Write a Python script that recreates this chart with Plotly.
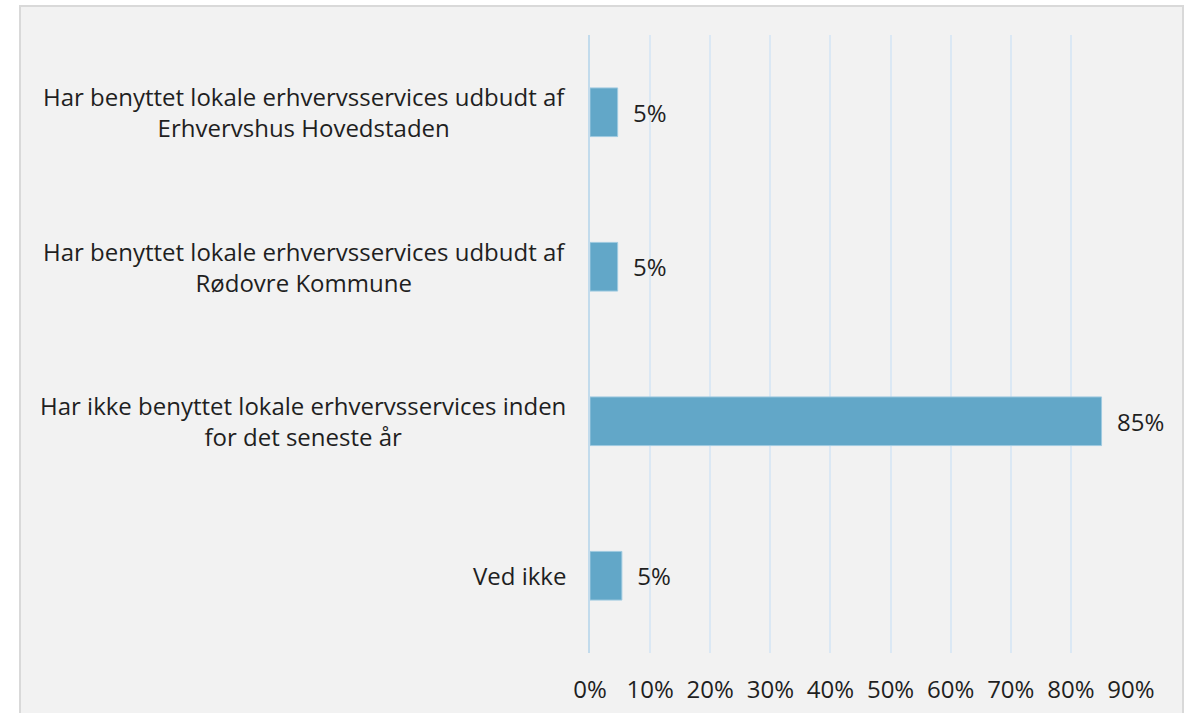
import plotly.graph_objects as go

categories = [
    "Har benyttet lokale erhvervsservices udbudt af<br>Erhvervshus Hovedstaden",
    "Har benyttet lokale erhvervsservices udbudt af<br>Rødovre Kommune",
    "Har ikke benyttet lokale erhvervsservices inden<br>for det seneste år",
    "Ved ikke",
]
values = [0.046, 0.046, 0.851, 0.053]
tick_vals = [0, 0.1, 0.2, 0.3, 0.4, 0.5, 0.6, 0.7, 0.8, 0.9]
tick_text = ["0%", "10%", "20%", "30%", "40%", "50%", "60%", "70%", "80%", "90%"]

W, H = 1191, 713
L, R, T, B = 590, 60, 35, 60
pw, ph = W - L - R, H - T - B

def px2x(px):
    return (px - L) / pw

def py2y(py):
    return (H - B - py) / ph

fig = go.Figure()
fig.add_trace(go.Bar(
    y=categories,
    x=values,
    orientation="h",
    width=0.315,
    marker=dict(color="#62a7c8", line=dict(color="#9fcae0", width=1)),
    texttemplate="\u00a0\u00a0%{x:.0%}",
    textposition="outside",
    cliponaxis=False,
    textfont=dict(size=24, color="#1f1f1f"),
    hoverinfo="skip",
))

# category labels, centred line by line like the original
annotations = [
    dict(x=0, y=c, xref="x", yref="y", text=c, showarrow=False,
         xanchor="right", yanchor="middle", align="center", xshift=-22,
         font=dict(size=24, color="#1f1f1f", family="Open Sans"))
    for c in categories
]

fig.update_layout(
    width=W, height=H,
    margin=dict(l=L, r=R, t=T, b=B, autoexpand=False),
    paper_bgcolor="white",
    plot_bgcolor="rgba(0,0,0,0)",
    font=dict(family="Open Sans", size=24, color="#1f1f1f"),
    showlegend=False,
    annotations=annotations,
    shapes=[dict(
        type="rect", xref="paper", yref="paper", layer="below",
        x0=px2x(20), x1=px2x(1183), y0=py2y(760), y1=py2y(6),
        fillcolor="#f2f2f2", line=dict(color="#d9d9d9", width=2),
    )],
    xaxis=dict(
        range=[0, 0.9],
        tickvals=tick_vals, ticktext=tick_text,
        showgrid=True, gridcolor="#dbe8f4", gridwidth=1.5,
        zeroline=False, showline=False, ticks="",
        ticklabelstandoff=20,
        fixedrange=True,
    ),
    yaxis=dict(
        categoryorder="array", categoryarray=categories,
        autorange="reversed",
        showgrid=False, zeroline=False,
        showline=True, linecolor="#c2dbec", linewidth=2,
        ticks="", showticklabels=False,
        fixedrange=True,
    ),
)

fig.write_html("out.html", config={"displayModeBar": False},
               post_script="document.body.style.margin='0';document.body.style.overflow='hidden';")
